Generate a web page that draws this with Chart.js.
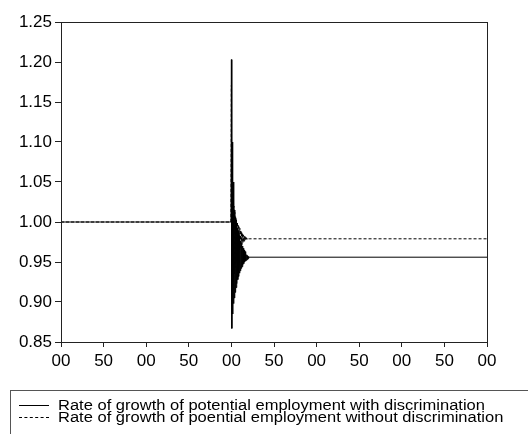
<!DOCTYPE html>
<html>
<head>
<meta charset="utf-8">
<script src="https://cdn.jsdelivr.net/npm/chart.js@4"></script>
<style>
  html, body { margin: 0; padding: 0; background: #fff; }
  #wrap { position: relative; width: 528px; height: 434px; overflow: hidden; }
  #legend {
    position: absolute; left: 10px; top: 390px; width: 530px; height: 60px;
    border-left: 1px solid #555; border-top: 1px solid #555;
    font-family: "Liberation Sans", Arial, sans-serif; font-size: 14px; color: #000;
  }
  .row { position: absolute; left: 0; height: 14px; line-height: 14px; white-space: nowrap; }
  .row .sample { position: absolute; left: 8px; top: 7px; width: 30px; border-top: 1px solid #000; }
  .row .sample.dash { border-top: 1px dashed #000; }
  .row .label { position: absolute; left: 47px; top: 0; transform: scaleX(1.18); transform-origin: left center; }
</style>
</head>
<body>
<div id="wrap">
  <canvas id="chart" width="528" height="434"></canvas>
  <div id="legend">
    <div class="row" style="top:7px"><span class="sample"></span><span class="label" id="lab0"></span></div>
    <div class="row" style="top:19px"><span class="sample dash"></span><span class="label" id="lab1"></span></div>
  </div>
</div>
<script>
// time index (shock at 200)
const periods = [0, 199.5, 200, 200.5, 201, 201.5, 202, 202.5, 203, 203.5, 204, 204.5,
  205, 205.5, 206, 206.5, 207, 207.5, 208, 208.5, 209, 209.5, 210, 210.5, 211, 211.5,
  212, 212.5, 213, 213.5, 214, 214.5, 215, 215.5, 216, 216.5, 217, 217.5, 218, 218.5,
  219, 219.5, 220, 220.5, 221, 500];

const withDisc = [1.000, 1.000, 1.203, 0.867, 1.100, 0.885, 1.050, 0.898, 1.030, 0.905,
  1.015, 0.912, 1.005, 0.918, 0.998, 0.923, 0.992, 0.928, 0.987, 0.932, 0.983, 0.936,
  0.979, 0.939, 0.976, 0.942, 0.973, 0.944, 0.970, 0.946, 0.967, 0.948, 0.965, 0.950,
  0.963, 0.951, 0.961, 0.952, 0.959, 0.953, 0.958, 0.954, 0.957, 0.955, 0.956, 0.956];

const withoutDisc = [1.000, 1.000, 1.171, 0.890, 1.053, 0.910, 1.030, 0.925, 1.020, 0.935,
  1.012, 0.943, 1.007, 0.949, 1.003, 0.954, 1.000, 0.958, 0.997, 0.962, 0.994, 0.965,
  0.992, 0.968, 0.990, 0.970, 0.988, 0.972, 0.986, 0.974, 0.984, 0.975, 0.983, 0.976,
  0.982, 0.977, 0.981, 0.978, 0.980, 0.978, 0.979, 0.979, 0.979, 0.979, 0.979, 0.979];

const seriesNames = [
  'Rate of growth of potential employment with discrimination',
  'Rate of growth of poential employment without discrimination'
];

const xTickLabels = ['00', '50', '00', '50', '00', '50', '00', '50', '00', '50', '00'];
const yTickLabels = ['0.85', '0.90', '0.95', '1.00', '1.05', '1.10', '1.15', '1.20', '1.25'];

document.getElementById('lab0').textContent = seriesNames[0];
document.getElementById('lab1').textContent = seriesNames[1];

const toPoints = arr => periods.map((x, i) => ({ x: x, y: arr[i] }));

const frame = {
  id: 'frame',
  afterDraw(chart) {
    const a = chart.chartArea;
    const c = chart.ctx;
    c.save();
    c.strokeStyle = '#222';
    c.lineWidth = 1;
    c.strokeRect(a.left + 0.5, a.top + 0.5, a.right - a.left, a.bottom - a.top);
    c.restore();
  }
};

const font = { family: '"Liberation Sans", Arial, sans-serif', size: 17 };

new Chart(document.getElementById('chart').getContext('2d'), {
  type: 'line',
  data: {
    datasets: [
      {
        label: seriesNames[0],
        data: toPoints(withDisc),
        borderColor: '#000',
        borderWidth: 1,
        pointRadius: 0,
        fill: false
      },
      {
        label: seriesNames[1],
        data: toPoints(withoutDisc),
        borderColor: '#000',
        borderWidth: 1,
        borderDash: [3, 2],
        pointRadius: 0,
        fill: false
      }
    ]
  },
  options: {
    responsive: false,
    animation: false,
    layout: { padding: { top: 22, right: 41, left: 0, bottom: 0 } },
    plugins: { legend: { display: false }, tooltip: { enabled: false } },
    scales: {
      x: {
        type: 'linear',
        min: 0,
        max: 500,
        afterFit: s => { s.height = 92; },
        border: { display: true, color: '#222' },
        grid: { drawOnChartArea: false, drawTicks: true, tickLength: 5, color: '#222' },
        ticks: {
          stepSize: 50,
          autoSkip: false,
          maxRotation: 0,
          padding: 4,
          color: '#000',
          font: font,
          callback: (v, i) => xTickLabels[i]
        }
      },
      y: {
        min: 0.85,
        max: 1.25,
        afterFit: s => { s.width = 61; },
        border: { display: true, color: '#222' },
        grid: { drawOnChartArea: false, drawTicks: true, tickLength: 6, color: '#222' },
        ticks: {
          stepSize: 0.05,
          padding: 3,
          color: '#000',
          font: font,
          callback: (v, i) => yTickLabels[i]
        }
      }
    }
  },
  plugins: [frame]
});
</script>
</body>
</html>
